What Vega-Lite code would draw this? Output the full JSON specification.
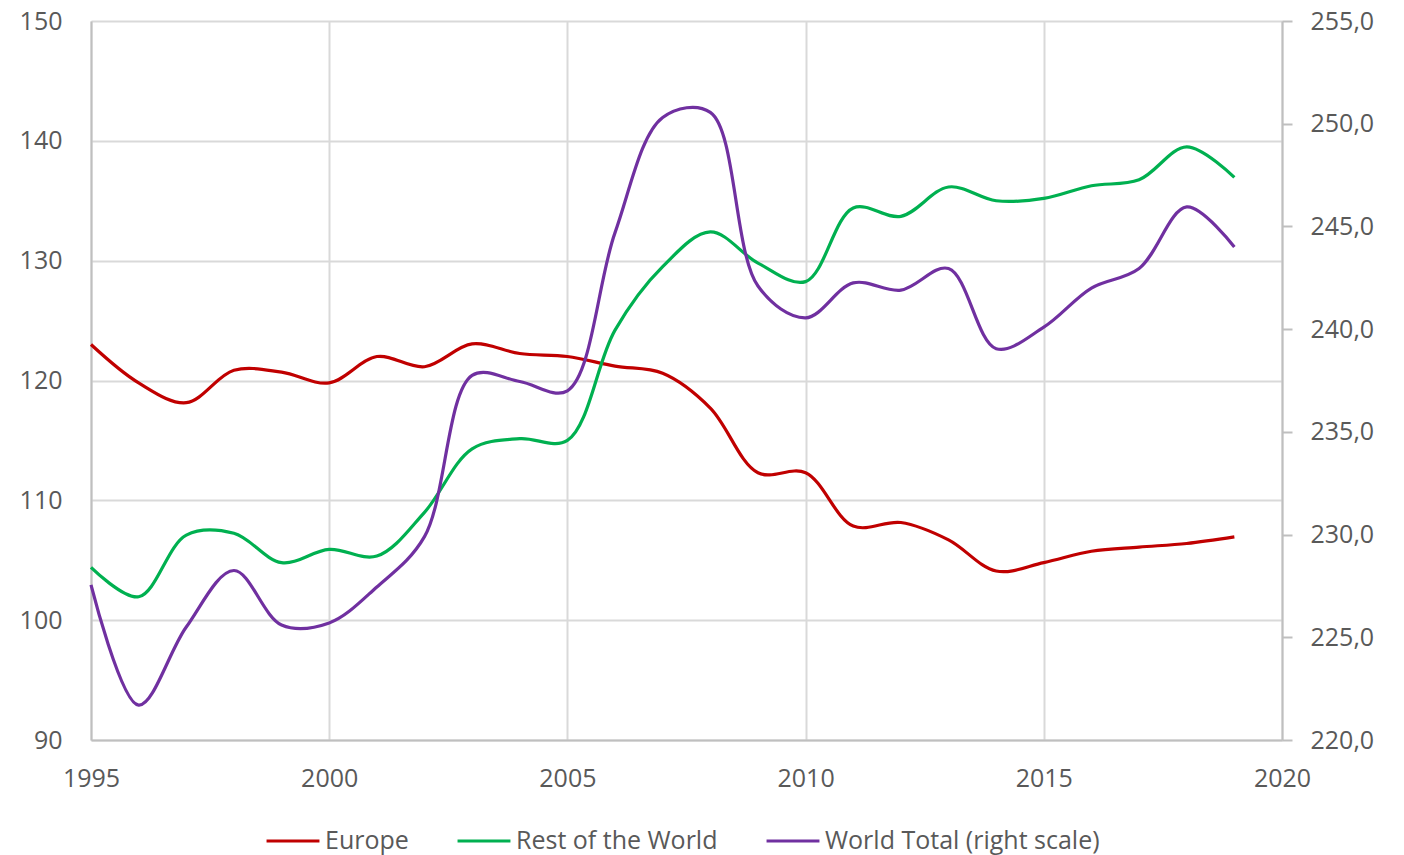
{
  "$schema": "https://vega.github.io/schema/vega-lite/v6.json",
  "width": 1191,
  "height": 719,
  "autosize": {"type": "none"},
  "padding": {"left": 91, "top": 21, "right": 122, "bottom": 115},
  "background": "white",
  "config": {
    "font": "Open Sans",
    "view": {"stroke": null},
    "axis": {
      "labelFont": "Open Sans",
      "labelFontSize": 25,
      "labelColor": "#595959",
      "domainColor": "#bfbfbf",
      "domainWidth": 2,
      "gridColor": "#d9d9d9",
      "gridWidth": 2,
      "tickColor": "#bfbfbf",
      "tickWidth": 2,
      "title": null
    }
  },
  "data": {
    "values": [
      {"year": 1995, "series": "Europe", "value": 123.0},
      {"year": 1996, "series": "Europe", "value": 119.8},
      {"year": 1997, "series": "Europe", "value": 118.15},
      {"year": 1998, "series": "Europe", "value": 120.85},
      {"year": 1999, "series": "Europe", "value": 120.7},
      {"year": 2000, "series": "Europe", "value": 119.8},
      {"year": 2001, "series": "Europe", "value": 122.0},
      {"year": 2002, "series": "Europe", "value": 121.15},
      {"year": 2003, "series": "Europe", "value": 123.05},
      {"year": 2004, "series": "Europe", "value": 122.25},
      {"year": 2005, "series": "Europe", "value": 122.0},
      {"year": 2006, "series": "Europe", "value": 121.2},
      {"year": 2007, "series": "Europe", "value": 120.6},
      {"year": 2008, "series": "Europe", "value": 117.7},
      {"year": 2009, "series": "Europe", "value": 112.3},
      {"year": 2010, "series": "Europe", "value": 112.3},
      {"year": 2011, "series": "Europe", "value": 107.85},
      {"year": 2012, "series": "Europe", "value": 108.15},
      {"year": 2013, "series": "Europe", "value": 106.7},
      {"year": 2014, "series": "Europe", "value": 104.1},
      {"year": 2015, "series": "Europe", "value": 104.8},
      {"year": 2016, "series": "Europe", "value": 105.75},
      {"year": 2017, "series": "Europe", "value": 106.1},
      {"year": 2018, "series": "Europe", "value": 106.4},
      {"year": 2019, "series": "Europe", "value": 106.95},
      {"year": 1995, "series": "Rest of the World", "value": 104.4},
      {"year": 1996, "series": "Rest of the World", "value": 101.95},
      {"year": 1997, "series": "Rest of the World", "value": 107.1},
      {"year": 1998, "series": "Rest of the World", "value": 107.25},
      {"year": 1999, "series": "Rest of the World", "value": 104.8},
      {"year": 2000, "series": "Rest of the World", "value": 105.9},
      {"year": 2001, "series": "Rest of the World", "value": 105.35},
      {"year": 2002, "series": "Rest of the World", "value": 109.0},
      {"year": 2003, "series": "Rest of the World", "value": 114.3},
      {"year": 2004, "series": "Rest of the World", "value": 115.15},
      {"year": 2005, "series": "Rest of the World", "value": 115.0},
      {"year": 2006, "series": "Rest of the World", "value": 124.2},
      {"year": 2007, "series": "Rest of the World", "value": 129.5},
      {"year": 2008, "series": "Rest of the World", "value": 132.4},
      {"year": 2009, "series": "Rest of the World", "value": 129.8},
      {"year": 2010, "series": "Rest of the World", "value": 128.25},
      {"year": 2011, "series": "Rest of the World", "value": 134.4},
      {"year": 2012, "series": "Rest of the World", "value": 133.7},
      {"year": 2013, "series": "Rest of the World", "value": 136.15},
      {"year": 2014, "series": "Rest of the World", "value": 135.0},
      {"year": 2015, "series": "Rest of the World", "value": 135.2},
      {"year": 2016, "series": "Rest of the World", "value": 136.25},
      {"year": 2017, "series": "Rest of the World", "value": 136.75},
      {"year": 2018, "series": "Rest of the World", "value": 139.5},
      {"year": 2019, "series": "Rest of the World", "value": 136.95},
      {"year": 1995, "series": "World Total (right scale)", "value": 227.55},
      {"year": 1996, "series": "World Total (right scale)", "value": 221.7},
      {"year": 1997, "series": "World Total (right scale)", "value": 225.5},
      {"year": 1998, "series": "World Total (right scale)", "value": 228.25},
      {"year": 1999, "series": "World Total (right scale)", "value": 225.6},
      {"year": 2000, "series": "World Total (right scale)", "value": 225.7},
      {"year": 2001, "series": "World Total (right scale)", "value": 227.45},
      {"year": 2002, "series": "World Total (right scale)", "value": 229.9},
      {"year": 2003, "series": "World Total (right scale)", "value": 237.75},
      {"year": 2004, "series": "World Total (right scale)", "value": 237.45},
      {"year": 2005, "series": "World Total (right scale)", "value": 237.0},
      {"year": 2006, "series": "World Total (right scale)", "value": 244.7},
      {"year": 2007, "series": "World Total (right scale)", "value": 250.3},
      {"year": 2008, "series": "World Total (right scale)", "value": 250.55},
      {"year": 2009, "series": "World Total (right scale)", "value": 242.1},
      {"year": 2010, "series": "World Total (right scale)", "value": 240.55},
      {"year": 2011, "series": "World Total (right scale)", "value": 242.25},
      {"year": 2012, "series": "World Total (right scale)", "value": 241.9},
      {"year": 2013, "series": "World Total (right scale)", "value": 242.95},
      {"year": 2014, "series": "World Total (right scale)", "value": 239.05},
      {"year": 2015, "series": "World Total (right scale)", "value": 240.1},
      {"year": 2016, "series": "World Total (right scale)", "value": 242.0},
      {"year": 2017, "series": "World Total (right scale)", "value": 242.95},
      {"year": 2018, "series": "World Total (right scale)", "value": 245.95},
      {"year": 2019, "series": "World Total (right scale)", "value": 244.0}
    ]
  },
  "encoding": {
    "x": {
      "field": "year",
      "type": "quantitative",
      "scale": {"domain": [1995, 2020], "nice": false, "zero": false},
      "axis": {
        "values": [1995, 2000, 2005, 2010, 2015, 2020],
        "format": "d",
        "ticks": false,
        "tickSize": 0,
        "labelPadding": 26,
        "grid": true,
        "labelFlush": false,
        "labelOverlap": false
      }
    },
    "color": {
      "field": "series",
      "type": "nominal",
      "scale": {
        "domain": ["Europe", "Rest of the World", "World Total (right scale)"],
        "range": ["#c00000", "#00b050", "#7030a0"]
      },
      "legend": {
        "orient": "none",
        "direction": "horizontal",
        "legendX": 174,
        "legendY": 792,
        "title": null,
        "symbolType": "stroke",
        "symbolSize": 2800,
        "symbolStrokeWidth": 3,
        "labelFont": "Open Sans",
        "labelFontSize": 25,
        "labelColor": "#595959",
        "labelOffset": 4,
        "columnPadding": 42,
        "labelLimit": 400
      }
    }
  },
  "layer": [
    {
      "transform": [{"filter": "datum.series != 'World Total (right scale)'"}],
      "mark": {"type": "line", "interpolate": "catmull-rom", "strokeWidth": 3.2},
      "encoding": {
        "y": {
          "field": "value",
          "type": "quantitative",
          "scale": {"domain": [90, 150], "nice": false, "zero": false},
          "axis": {
            "orient": "left",
            "values": [90, 100, 110, 120, 130, 140, 150],
            "ticks": false,
            "tickSize": 0,
            "labelPadding": 29,
            "grid": true,
            "labelFlush": false,
            "labelOverlap": false
          }
        }
      }
    },
    {
      "transform": [{"filter": "datum.series == 'World Total (right scale)'"}],
      "mark": {"type": "line", "interpolate": "catmull-rom", "strokeWidth": 3.2},
      "encoding": {
        "y": {
          "field": "value",
          "type": "quantitative",
          "scale": {"domain": [220, 255], "nice": false, "zero": false},
          "axis": {
            "orient": "right",
            "values": [220, 225, 230, 235, 240, 245, 250, 255],
            "labelExpr": "replace(format(datum.value, '.1f'), '.', ',')",
            "ticks": true,
            "tickSize": 10,
            "labelPadding": 18,
            "grid": false,
            "labelFlush": false,
            "labelOverlap": false
          }
        }
      }
    }
  ],
  "resolve": {"scale": {"y": "independent"}}
}
